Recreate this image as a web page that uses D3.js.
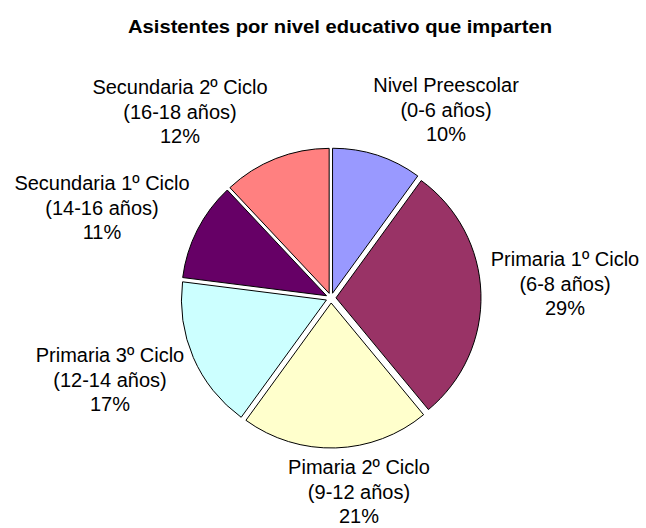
<!DOCTYPE html>
<html>
<head>
<meta charset="utf-8">
<script src="https://cdn.jsdelivr.net/npm/d3@7"></script>
<style>
  html, body { margin: 0; padding: 0; background: #fff; }
  svg { display: block; }
  text { font-family: "Liberation Sans", Arial, sans-serif; fill: #000; }
</style>
</head>
<body>
<svg id="chart" width="646" height="528"></svg>
<script>
const categories = [
  "Nivel Preescolar", "Primaria 1º Ciclo", "Pimaria 2º Ciclo",
  "Primaria 3º Ciclo", "Secundaria 1º Ciclo", "Secundaria 2º Ciclo"
];
const ageRanges = ["(0-6 años)", "(6-8 años)", "(9-12 años)", "(12-14 años)", "(14-16 años)", "(16-18 años)"];
const values = [10, 29, 21, 17, 11, 12];
const colors = ["#9999FF", "#993366", "#FFFFCC", "#CCFFFF", "#660066", "#FF8080"];
const title = "Asistentes por nivel educativo que imparten";

// layout
const W = 646, H = 528;
const cx = 331, cy = 298, R = 145, explode = 5;
// label anchor (centre x, first baseline y)
const labelPos = [[446, 92], [565, 266], [359, 474], [110, 362], [102, 190], [180, 94]];
const lineH = 24.5;

const svg = d3.select("#chart");

svg.append("text")
  .attr("x", 340).attr("y", 33)
  .attr("text-anchor", "middle")
  .attr("font-weight", "bold")
  .attr("font-size", 18)
  .attr("textLength", 424)
  .attr("lengthAdjust", "spacingAndGlyphs")
  .text(title);

const total = d3.sum(values);
const pie = d3.pie().sort(null).value(d => d)(values);
const arc = d3.arc().innerRadius(0).outerRadius(R);

const g = svg.append("g").attr("transform", `translate(${cx},${cy})`);
g.selectAll("path").data(pie).join("path")
  .attr("d", arc)
  .attr("fill", (d, i) => colors[i])
  .attr("stroke", "#000")
  .attr("stroke-width", 1)
  .attr("stroke-linejoin", "round")
  .attr("transform", d => {
    const a = (d.startAngle + d.endAngle) / 2;
    return `translate(${explode * Math.sin(a)},${-explode * Math.cos(a)})`;
  });

const labels = svg.append("g");
pie.forEach((d, i) => {
  const [lx, ly] = labelPos[i];
  const t = labels.append("text")
    .attr("text-anchor", "middle")
    .attr("font-size", 20);
  const lines = [categories[i], ageRanges[i], Math.round(values[i] / total * 100) + "%"];
  lines.forEach((s, k) => {
    t.append("tspan").attr("x", lx).attr("y", ly + k * lineH).text(s);
  });
});
</script>
</body>
</html>
